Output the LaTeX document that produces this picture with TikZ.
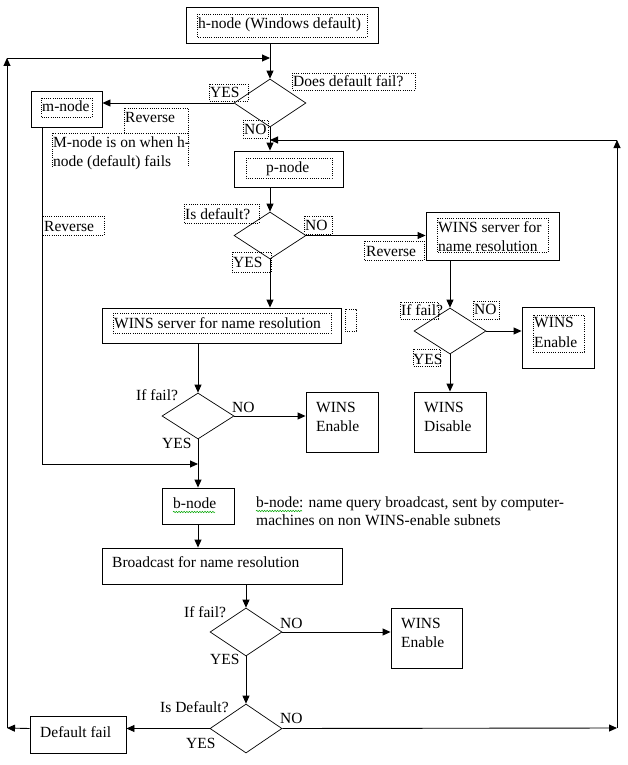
\documentclass[tikz,border=0pt]{standalone}
\usepackage{fontspec}
\setmainfont{Liberation Serif}
\usetikzlibrary{arrows.meta,shapes.geometric,decorations.pathmorphing}
\begin{document}
\begin{tikzpicture}[x=1pt,y=-1pt,
  txt/.style={anchor=base west, inner sep=0pt, font=\fontsize{15.5}{19}\selectfont},
  bx/.style={draw, line width=0.9pt, rectangle, inner sep=0pt},
  dm/.style={draw, diamond, line width=0.7pt, inner sep=0pt, minimum width=72pt, minimum height=47pt},
  arr/.style={-{Triangle[length=8pt,width=7pt]}, line width=0.9pt},
  dotbox/.style={line width=0.6pt, dash pattern=on 0.9pt off 1.3pt},
  wavy/.style={draw=green!65!black, line width=0.5pt, decorate, decoration={snake, amplitude=0.7pt, segment length=2.6pt}}]
\fill[white] (0,0) rectangle (627,765);
\useasboundingbox (0,0) rectangle (627,765);

% boxes
\node[bx, minimum width=192pt, minimum height=36pt] (hnode) at (282,25) {};
\node[bx, minimum width=71pt, minimum height=36pt] (mnode) at (66.5,109) {};
\node[bx, minimum width=109pt, minimum height=36pt] (pnode) at (288.5,169) {};
\node[bx, minimum width=133pt, minimum height=48pt] (winsR) at (492.5,236) {};
\node[bx, minimum width=72pt, minimum height=61pt] (winsEnR) at (558,337.5) {};
\node[bx, minimum width=72pt, minimum height=60pt] (winsDis) at (450,422) {};
\node[bx, minimum width=239pt, minimum height=35pt] (winsL) at (221.5,325.5) {};
\node[bx, minimum width=72pt, minimum height=60pt] (winsEnM) at (342,422) {};
\node[bx, minimum width=72pt, minimum height=36pt] (bnode) at (198,506) {};
\node[bx, minimum width=240pt, minimum height=36pt] (bcast) at (222,566) {};
\node[bx, minimum width=71pt, minimum height=60pt] (winsEnB) at (426.5,638) {};
\node[bx, minimum width=96pt, minimum height=37pt] (dfail) at (78,734.5) {};

% diamonds
\node[dm, minimum height=48pt] (d1) at (270,103) {};
\node[dm] (d2) at (270,235.5) {};
\node[dm, minimum height=46pt] (d3) at (450,331) {};
\node[dm, minimum height=46pt] (d4) at (198,416) {};
\node[dm, minimum height=48pt] (d5) at (246,632) {};
\node[dm, minimum height=49pt] (d6) at (246,728.5) {};

% box texts
\node[txt] (ht) at (198,29) {h-node (Windows default)};
\node[txt] (mt) at (42,112) {m-node};
\node[txt] (pt) at (266,172) {p-node};
\node[txt] (wr1) at (438,232) {WINS server for};
\node[txt] (wr2) at (438,251) {name resolution};
\node[txt] (wer1) at (534,327) {WINS};
\node[txt] (wer2) at (534,347) {Enable};
\node[txt] (wd1) at (424,412) {WINS};
\node[txt] (wd2) at (424,431) {Disable};
\node[txt] (wlt) at (114,328) {WINS server for name resolution};
\node[txt] (wem1) at (316,412) {WINS};
\node[txt] (wem2) at (316,431) {Enable};
\node[txt] (bt) at (173,508) {b-node};
\node[txt] (bd1) at (256,507) {b-node: name query broadcast, sent by computer-};
\node[txt] (bd2) at (256,525) {machines on non WINS-enable subnets};
\node[txt] (bct) at (112,567) {Broadcast for name resolution};
\node[txt] (web1) at (401,628) {WINS};
\node[txt] (web2) at (401,647) {Enable};
\node[txt] (dft) at (40,737) {Default fail};

% labels
\node[txt] (l1) at (293,87) {Does default fail?};
\node[txt] (l2) at (210,98) {YES};
\node[txt] (l3) at (125,123) {Reverse};
\node[txt] (l4a) at (53,147) {M-node is on when h-};
\node[txt] (l4b) at (53,166) {node (default) fails};
\node[txt] (l5) at (244,135) {NO};
\node[txt] (l6) at (44,231) {Reverse};
\node[txt] (l7) at (185,219) {Is default?};
\node[txt] (l8) at (305,230) {NO};
\node[txt] (l9) at (233,267) {YES};
\node[txt] (l10) at (366,256) {Reverse};
\node[txt] (l11) at (401,315) {If fail?};
\node[txt] (l12) at (474,314) {NO};
\node[txt] (l13) at (413,364) {YES};
\node[txt] (l14) at (136,400) {If fail?};
\node[txt] (l15) at (232,412) {NO};
\node[txt] (l16) at (162,448) {YES};
\node[txt] (l17) at (184,617) {If fail?};
\node[txt] (l18) at (280,628) {NO};
\node[txt] (l19) at (210,664) {YES};
\node[txt] (l20) at (160,712) {Is Default?};
\node[txt] (l21) at (280,723) {NO};
\node[txt] (l22) at (186,748) {YES};

% dotted text frames
\draw[dotbox] (197,14) rectangle (367,37);
\draw[dotbox] (41,98) rectangle (92,117);
\draw[dotbox] (246,158) rectangle (332,178);
\draw[dotbox] (437,218) rectangle (548,252);
\draw[dotbox] (533,315) rectangle (584,352);
\draw[dotbox] (113,313) rectangle (331,333);
\draw[dotbox] (345,309) rectangle (356,331);
\draw[dotbox] (292,73) rectangle (415,90);
\draw[dotbox] (209,84) rectangle (248,101);
\draw[dotbox] (124,133) -- (124,108) -- (188,108) -- (188,133);
\draw[dotbox] (52,167) -- (52,133) -- (188,133) -- (188,167);
\draw[dotbox] (243,120) rectangle (268,138);
\draw[dotbox] (42,216) rectangle (104,235);
\draw[dotbox] (184,204) rectangle (259,223);
\draw[dotbox] (304,216) rectangle (332,234);
\draw[dotbox] (232,252) rectangle (271,272);
\draw[dotbox] (364,241) rectangle (424,260);
\draw[dotbox] (400,302) rectangle (438,319);
\draw[dotbox] (473,301) rectangle (499,319);
\draw[dotbox] (413,349) rectangle (440,366);

% spelling underlines
\draw[wavy] (173,512) -- (215,512);
\draw[wavy] (256,511) -- (302,511);

% connectors
\coordinate (mx) at (42,464);
\coordinate (lb) at (7,728);
\coordinate (lt) at (7,58);
\coordinate (rb) at (617,728);
\coordinate (rt) at (617,140);

\draw[arr] (d1.north |- hnode.south) -- (d1.north);
\draw[arr] (d1.west) -- (d1.west -| mnode.east);
\draw[arr] (d1.south) -- (d1.south |- pnode.north);
\draw[arr] (d2.north |- pnode.south) -- (d2.north);
\draw[arr] (d2.east) -- (d2.east -| winsR.west);
\draw[arr] (d2.south) -- (d2.south |- winsL.north);
\draw[arr] (d3.north |- winsR.south) -- (d3.north);
\draw[arr] (d3.east) -- (d3.east -| winsEnR.west);
\draw[arr] (d3.south) -- (d3.south |- winsDis.north);
\draw[arr] (d4.north |- winsL.south) -- (d4.north);
\draw[arr] (d4.east) -- (d4.east -| winsEnM.west);
\draw[arr] (d4.south) -- (d4.south |- bnode.north);
\draw[arr] (mx |- mnode.south) -- (mx) -- (mx -| d4.south);
\draw[arr] (bnode.south) -- (bnode.south |- bcast.north);
\draw[arr] (d5.north |- bcast.south) -- (d5.north);
\draw[arr] (d5.east) -- (d5.east -| winsEnB.west);
\draw[arr] (d5.south) -- (d6.north);
\draw[arr] (d6.west) -- (d6.west -| dfail.east);
\draw[arr] (d6.west -| dfail.west) -- (lb);
\draw[arr] (lb) -- (lt);
\draw[arr] (lt) -- (lt -| d1.north);
\draw[arr] (d6.east) -- (rb);
\draw[arr] (rb) -- (rt);
\draw[arr] (rt) -- (rt -| d1.south);
\end{tikzpicture}
\end{document}
